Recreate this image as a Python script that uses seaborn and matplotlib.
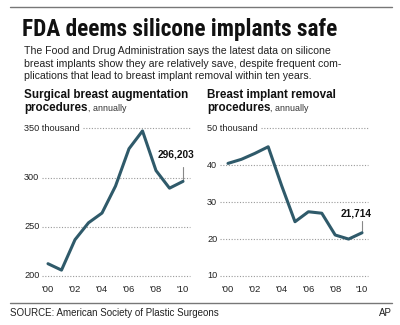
import matplotlib
matplotlib.use("Agg")
import matplotlib.pyplot as plt
from matplotlib import font_manager as fm
import seaborn as sns
import pandas as pd

# ---- data ----
years = [2000, 2001, 2002, 2003, 2004, 2005, 2006, 2007, 2008, 2009, 2010]
augmentation = [212.5, 206.0, 236.9, 254.1, 264.0, 291.4, 329.4, 347.5, 307.2, 289.3, 296.2]
removal = [40.5, 41.6, 43.2, 45.0, 34.5, 24.7, 27.4, 27.0, 21.1, 20.0, 21.7]
aug_ticks = [200, 250, 300, 350]
aug_ticklabels = ["200", "250", "300", "350 thousand"]
rem_ticks = [10, 20, 30, 40, 50]
rem_ticklabels = ["10", "20", "30", "40", "50 thousand"]
xtick_years = [2000, 2002, 2004, 2006, 2008, 2010]
xtick_labels = ["'00", "'02", "'04", "'06", "'08", "'10"]
aug_label = "296,203"
rem_label = "21,714"

title = "FDA deems silicone implants safe"
subtitle = ["The Food and Drug Administration says the latest data on silicone",
            "breast implants show they are relatively save, despite frequent com-",
            "plications that lead to breast implant removal within ten years."]
left_title = ["Surgical breast augmentation", "procedures"]
right_title = ["Breast implant removal", "procedures"]
source = "SOURCE: American Society of Plastic Surgeons"
credit = "AP"

sns.set_style("white")
plt.rcParams["font.family"] = ["Liberation Sans", "DejaVu Sans"]

installed = {f.name for f in fm.fontManager.ttflist}
cond = [n for n in ["Roboto Condensed", "Archivo Narrow", "Barlow Semi Condensed",
                    "IBM Plex Sans Condensed", "Fira Sans Condensed"] if n in installed]
title_family = (cond[:1] or ["Liberation Sans"]) + ["DejaVu Sans"]

W, H = 400, 325
fig = plt.figure(figsize=(W / 100, H / 100), dpi=100)
fig.patch.set_facecolor("white")

def fy(px):
    return 1 - px / H

def fx(px):
    return px / W

LINE_COLOR = "#2f5a6a"
GRID_COLOR = "#9a9a9a"
TXT = "#222222"

# rules
fig.add_artist(plt.Line2D([fx(10), fx(392)], [fy(7), fy(7)], color="#777777", lw=1.0))
fig.add_artist(plt.Line2D([fx(10), fx(392)], [fy(303), fy(303)], color="#777777", lw=1.0))

tt = fig.text(fx(22), fy(36), title, fontsize=16, fontweight="bold",
              family=title_family, va="baseline", ha="left", color="#111111")
fig.canvas.draw()
bw = tt.get_window_extent(renderer=fig.canvas.get_renderer()).width
tt.set_fontsize(min(22, 16 * 315 / bw))

for i, line in enumerate(subtitle):
    fig.text(fx(24), fy(54.3 + i * 12.35), line, fontsize=7.6, va="baseline", ha="left", color=TXT)

fig.text(fx(10), fy(316), source, fontsize=7.0, va="baseline", ha="left", color=TXT)
fig.text(fx(392), fy(316), credit, fontsize=7.0, va="baseline", ha="right", color=TXT)

df_aug = pd.DataFrame({"year": years, "value": augmentation})
df_rem = pd.DataFrame({"year": years, "value": removal})

panels = [
    dict(df=df_aug, left=24, right=190, x0=48, ppy=13.5, ylim=(200, 358.6),
         ticks=aug_ticks, labels=aug_ticklabels, titles=left_title,
         ann=aug_label, ann_dx=-0.5, ann_y=318, lead_top=311, last=augmentation[-1]),
    dict(df=df_rem, left=207, right=368, x0=228, ppy=13.4, ylim=(10, 52.25),
         ticks=rem_ticks, labels=rem_ticklabels, titles=right_title,
         ann=rem_label, ann_dx=-0.45, ann_y=25.7, lead_top=25.0, last=removal[-1]),
]

for p in panels:
    left, right = p["left"], p["right"]
    ax = fig.add_axes([fx(left), fy(276), (right - left) / W, 156 / H])
    xl = 2000 - (p["x0"] - left) / p["ppy"]
    xr = 2010 + (right - (p["x0"] + 10 * p["ppy"])) / p["ppy"]
    ax.set_xlim(xl, xr)
    ax.set_ylim(*p["ylim"])
    for s in ax.spines.values():
        s.set_visible(False)
    ax.set_yticks([])
    ax.set_xticks(xtick_years)
    ax.set_xticklabels(xtick_labels, fontsize=6.8, color=TXT)
    ax.set_xticks(years, minor=True)
    ax.tick_params(axis="x", which="both", length=2.5, width=0.6, color="#aaaaaa",
                   direction="out", pad=4.3)
    ax.patch.set_alpha(0)

    # y labels + dotted gridlines
    for t, lab in zip(p["ticks"], p["labels"]):
        txt = ax.text(xl, t, lab, fontsize=6.6, color=TXT, ha="left", va="center", clip_on=False)
        fig.canvas.draw()
        bb = txt.get_window_extent(renderer=fig.canvas.get_renderer())
        x_start = ax.transData.inverted().transform((bb.x1 + 3, 0))[0]
        ax.plot([x_start, xr], [t, t], color=GRID_COLOR, lw=0.8,
                linestyle=(0, (1, 1.5)), zorder=1, clip_on=False)

    sns.lineplot(data=p["df"], x="year", y="value", ax=ax, color=LINE_COLOR,
                 lw=2.2, zorder=3, clip_on=False, legend=False)
    ax.set_xlabel("")
    ax.set_ylabel("")

    # annotation
    ax.plot([2010, 2010], [p["last"], p["lead_top"]], color="#888888", lw=0.8, zorder=2)
    ax.text(2010 + p["ann_dx"], p["ann_y"], p["ann"], fontsize=7.3, fontweight="bold",
            color="#111111", ha="center", va="bottom", clip_on=False)

    # panel titles
    fig.text(fx(left), fy(98.3), p["titles"][0], fontsize=8.4, fontweight="bold",
             color="#111111", va="baseline", ha="left")
    t2 = fig.text(fx(left), fy(111), p["titles"][1], fontsize=8.4, fontweight="bold",
                  color="#111111", va="baseline", ha="left")
    fig.canvas.draw()
    bb = t2.get_window_extent(renderer=fig.canvas.get_renderer())
    fig.text(bb.x1 / W, fy(111), ", annually", fontsize=6.4, color="#333333",
             va="baseline", ha="left")

fig.savefig("out.png", dpi=100, facecolor="white")
